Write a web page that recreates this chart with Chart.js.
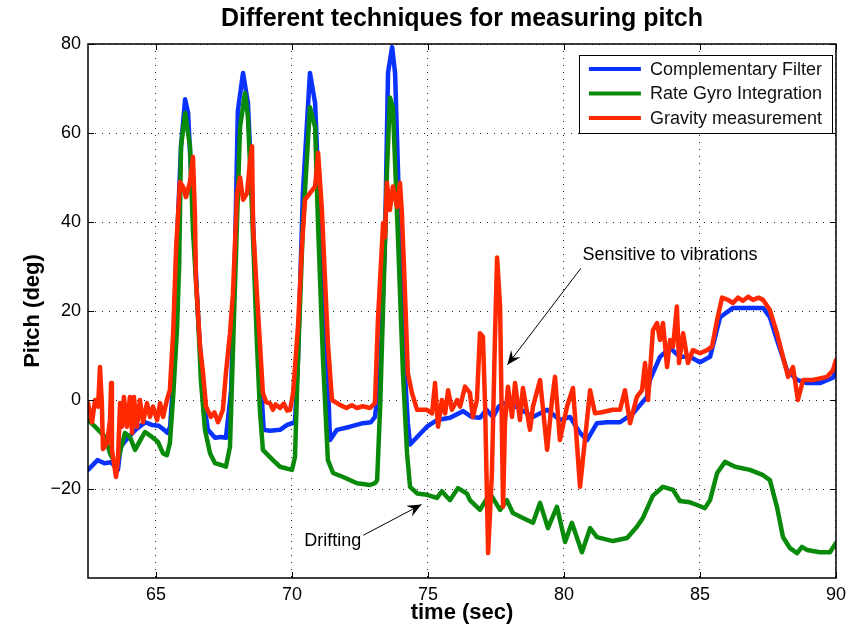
<!DOCTYPE html>
<html>
<head>
<meta charset="utf-8">
<script src="https://cdn.jsdelivr.net/npm/chart.js@4.4.0/dist/chart.umd.min.js"></script>
<style>
  html, body { margin: 0; padding: 0; background: #fff; }
  #wrap { width: 852px; height: 628px; }
</style>
</head>
<body>
<div id="wrap"><canvas id="pitchChart" width="852" height="628"></canvas></div>
<script>
// time (sec), pitch (deg)
const complementary = [
  [62.5,-15.7],[62.85,-13.5],[63.1,-14.2],[63.35,-14],[63.6,-15.7],[63.7,-10.5],[63.9,-9],[64.25,-6.7],
  [64.6,-5],[64.85,-5.6],[65.1,-5.8],[65.3,-6.7],[65.42,-7.4],[65.52,-6],[65.6,1.6],[65.74,30.8],
  [65.92,57],[66.07,67.6],[66.18,64.5],[66.36,42],[66.54,19.5],[66.73,0.7],[66.91,-6.7],[67.17,-8.5],
  [67.39,-8.3],[67.57,-8.5],[67.76,2],[67.9,31.5],[68.01,65],[68.2,73.5],[68.38,66.7],[68.53,46.5],
  [68.71,16.4],[68.88,1.6],[68.96,-6.7],[69.19,-6.9],[69.56,-6.7],[69.82,-5.6],[70.11,-5],[70.22,9],
  [70.4,46.5],[70.66,73.5],[70.85,66.7],[71.03,39],[71.29,9],[71.4,-9],[71.65,-6.7],[72.13,-6],
  [72.61,-5.2],[72.9,-5],[73.05,-3.8],[73.24,6],[73.42,36],[73.53,73.5],[73.68,79.3],[73.79,73.5],
  [73.9,51],[74.08,13.5],[74.26,-5.2],[74.34,-10],[74.6,-8.3],[74.96,-6],[75.33,-4.5],[75.81,-4],
  [76.29,-2.5],[76.6,-3.8],[76.91,-4],[77.15,-2.2],[77.39,-3.8],[77.6,-1.5],[77.76,-0.7],[78.27,-1.6],
  [78.86,-3.8],[79.38,-2.2],[79.85,-4.5],[80.22,-3.8],[80.59,-7.4],[80.85,-9],[81.21,-5.2],[81.58,-5],
  [82.06,-5],[82.54,-3],[83.05,0.7],[83.16,4.5],[83.53,9.7],[83.9,11.7],[84.26,9.7],[84.63,9.7],
  [85.0,8.5],[85.37,9.7],[85.74,18.6],[86.21,20.7],[86.84,20.7],[87.32,20.7],[87.57,18.6],[87.83,13.5],
  [88.2,6.7],[88.57,4.5],[88.93,3.8],[89.41,3.8],[89.89,5],[90,6.7]
];

const rateGyro = [
  [62.5,-4.5],[62.76,-6],[63.13,-8.3],[63.31,-12],[63.49,-14.2],[63.6,-13.5],[63.86,-7.4],[64.04,-8.3],
  [64.23,-11.2],[64.49,-8.3],[64.6,-7.2],[64.85,-8.3],[65.07,-9.4],[65.26,-12],[65.4,-12.4],[65.51,-9.7],
  [65.63,0.7],[65.77,15.7],[65.85,30],[65.92,57],[66.07,64.5],[66.25,57],[66.36,38],[66.54,19.5],
  [66.65,4.5],[66.8,-6.7],[66.99,-12],[67.17,-14.2],[67.39,-14.6],[67.57,-15],[67.72,-10.5],[67.9,25],
  [68.09,61.3],[68.27,69],[68.38,63.6],[68.53,42.7],[68.71,12.8],[68.82,-2.2],[68.93,-11.2],[69.3,-13.5],
  [69.56,-15],[70.0,-15.7],[70.11,-12.8],[70.22,9],[70.4,39],[70.66,65.8],[70.85,61.3],[70.96,39],
  [71.14,9],[71.32,-13.5],[71.51,-16.4],[71.88,-17.3],[72.39,-18.7],[72.87,-19.1],[73.05,-18.7],[73.13,-18],
  [73.24,-1.6],[73.35,21],[73.49,51],[73.6,68],[73.71,65.8],[73.9,36],[74.08,6],[74.23,-12],
  [74.34,-19.5],[74.6,-21],[74.96,-21.3],[75.33,-22],[75.51,-20.5],[75.7,-21.8],[75.81,-22.5],[76.1,-19.8],
  [76.43,-21],[76.54,-22.5],[76.91,-24.7],[77.28,-21],[77.65,-24.7],[77.9,-22.5],[78.12,-25.4],[78.49,-26.5],
  [78.86,-27.6],[79.12,-23.1],[79.41,-28.8],[79.74,-24],[80.04,-31.9],[80.29,-27.6],[80.66,-34.2],[80.96,-28.8],
  [81.21,-30.8],[81.8,-31.7],[82.32,-31],[82.68,-28.5],[82.9,-26.5],[83.27,-21.5],[83.64,-19.5],[84.01,-20.2],
  [84.26,-22.7],[84.63,-23],[84.89,-23.6],[85.18,-24.3],[85.37,-22.5],[85.63,-16.4],[85.92,-13.9],[86.29,-15],
  [86.84,-15.7],[87.32,-16.9],[87.57,-18],[87.83,-24],[88.05,-30.8],[88.31,-33.3],[88.57,-34.4],[88.75,-33],
  [88.93,-33.7],[89.41,-34.2],[89.78,-34.2],[90,-32.1]
];

const gravity = [
  [62.5,-0.7],[62.65,-5],[62.76,0],[62.87,-1.5],[62.94,7.4],[63.01,-0.7],[63.05,-11],[63.2,-9.7],
  [63.31,-4.5],[63.35,3.8],[63.38,-11.2],[63.53,-17.3],[63.6,-13.5],[63.68,-0.7],[63.75,-6],[63.82,0.7],
  [63.93,-6],[64.04,0.7],[64.12,-7.4],[64.19,0.7],[64.3,-6],[64.41,0],[64.52,-5],[64.67,-0.7],
  [64.78,-3.8],[64.89,-1.5],[65.04,-4.5],[65.15,-0.7],[65.26,-3.8],[65.4,0],[65.51,2.2],[65.63,15],
  [65.74,34],[65.88,49],[65.99,48],[66.1,45.6],[66.25,49],[66.36,54.6],[66.43,42],[66.47,27],
  [66.62,12],[66.73,6],[66.84,-1.5],[67.02,-3.8],[67.15,-2.8],[67.28,-5],[67.38,-3.5],[67.46,-2.2],
  [67.57,6],[67.72,15],[67.83,24],[67.98,46.5],[68.09,50],[68.2,45],[68.35,46.5],[68.46,54],
  [68.53,57],[68.57,39],[68.71,24],[68.82,12.8],[68.93,1.6],[69.05,-0.5],[69.19,-0.7],[69.3,-2.2],
  [69.4,-1],[69.56,-1.8],[69.7,-0.8],[69.82,-2.4],[69.93,-2.2],[70.04,1.6],[70.22,16.4],[70.37,35],
  [70.48,45],[70.66,46.5],[70.85,48],[70.96,55.5],[71.1,42.7],[71.21,27.6],[71.32,12.8],[71.47,0],
  [71.76,-1.1],[72.0,-1.8],[72.2,-1.2],[72.39,-1.8],[72.6,-1.4],[72.87,-1.8],[73.05,-0.7],[73.16,18],
  [73.35,39.8],[73.42,36.6],[73.49,48.8],[73.6,42.7],[73.71,48],[73.86,43.4],[73.97,48.8],[74.04,42],
  [74.15,24.7],[74.26,6],[74.41,1.6],[74.6,-2.2],[74.96,-2.2],[75.15,-3],[75.26,3.8],[75.37,-6],
  [75.51,0],[75.63,-3],[75.74,2.2],[75.88,-2.2],[76.07,0],[76.18,-1.5],[76.36,3],[76.54,1.6],
  [76.65,-3.8],[76.8,0],[76.91,15],[77.02,14.2],[77.1,-1.5],[77.21,-34.4],[77.35,-16.4],[77.46,13.5],
  [77.54,32],[77.65,21],[77.76,-24],[77.83,-5.2],[77.94,3],[78.09,-3.8],[78.2,3.8],[78.38,-4.5],
  [78.49,2.7],[78.75,-6.7],[78.86,-1.5],[79.12,4.5],[79.38,-11.2],[79.56,0],[79.67,5.2],[79.85,-9],
  [80.11,-1.5],[80.33,2.7],[80.59,-19.5],[80.77,-9],[80.96,2.2],[81.14,-3],[81.43,-2.7],[81.8,-2.2],
  [82.06,-2.2],[82.24,2.2],[82.43,-5.2],[82.68,0.7],[82.87,2.2],[82.98,8.3],[83.09,0],[83.27,15.7],
  [83.42,17.3],[83.53,13.5],[83.64,17.3],[83.79,7.4],[83.9,13.5],[84.01,12],[84.15,21],[84.23,8.3],
  [84.38,15],[84.56,8.3],[84.74,11.2],[85.0,10.5],[85.26,11.2],[85.44,12],[85.63,18],[85.81,23],
  [86.03,22.5],[86.21,21.8],[86.4,23],[86.58,22.3],[86.77,23.2],[86.95,22.5],[87.15,23],[87.32,22.5],
  [87.57,20.2],[87.83,15],[88.05,9.7],[88.24,5.2],[88.42,7.4],[88.6,0],[88.79,4.5],[89.15,4.5],
  [89.67,5.2],[89.89,6.7],[90,9]
];

const seriesNames = ["Complementary Filter", "Rate Gyro Integration", "Gravity measurement"];
const seriesColors = ["#0a32ff", "#0a8a0a", "#ff2800"];
const xTicks = [65, 70, 75, 80, 85, 90];
const yTicks = [-20, 0, 20, 40, 60, 80];

const notes = [
  { text: "Sensitive to vibrations", at: [80.68, 32.6], align: "left", from: [80.62, 29.6], to: [77.92, 7.9] },
  { text: "Drifting", at: [72.55, -31.8], align: "right", from: [72.62, -30.4], to: [74.76, -23.5] },
];

const FONT = '"Liberation Sans", Arial, Helvetica, sans-serif';

function drawArrowHead(ctx, x1, y1, x2, y2) {
  const ang = Math.atan2(y2 - y1, x2 - x1);
  const len = 14, half = 6, notch = 9;
  ctx.save();
  ctx.translate(x2, y2);
  ctx.rotate(ang);
  ctx.beginPath();
  ctx.moveTo(0, 0);
  ctx.lineTo(-len, -half);
  ctx.lineTo(-notch, 0);
  ctx.lineTo(-len, half);
  ctx.closePath();
  ctx.fillStyle = "#000";
  ctx.fill();
  ctx.restore();
}

const decorations = {
  id: "decorations",
  afterDraw(chart) {
    const { ctx, chartArea: a, scales: { x, y } } = chart;
    ctx.save();

    // inner ticks + frame
    ctx.strokeStyle = "#000";
    ctx.lineWidth = 1;
    const tl = 6;
    ctx.beginPath();
    xTicks.forEach((v) => {
      const px = Math.round(x.getPixelForValue(v)) + 0.5;
      ctx.moveTo(px, a.bottom); ctx.lineTo(px, a.bottom - tl);
      ctx.moveTo(px, a.top); ctx.lineTo(px, a.top + tl);
    });
    yTicks.forEach((v) => {
      const py = Math.round(y.getPixelForValue(v)) + 0.5;
      ctx.moveTo(a.left, py); ctx.lineTo(a.left + tl, py);
      ctx.moveTo(a.right, py); ctx.lineTo(a.right - tl, py);
    });
    ctx.stroke();
    ctx.lineWidth = 1.5;
    ctx.strokeRect(a.left, a.top, a.right - a.left, a.bottom - a.top);

    // title
    ctx.fillStyle = "#000";
    ctx.font = "bold 25px " + FONT;
    ctx.textAlign = "center";
    ctx.textBaseline = "middle";
    ctx.fillText("Different techniques for measuring pitch", (a.left + a.right) / 2, 19);

    // annotations
    ctx.font = "18px " + FONT;
    notes.forEach((n) => {
      ctx.textAlign = n.align;
      ctx.fillText(n.text, x.getPixelForValue(n.at[0]), y.getPixelForValue(n.at[1]));
      const x1 = x.getPixelForValue(n.from[0]), y1 = y.getPixelForValue(n.from[1]);
      const x2 = x.getPixelForValue(n.to[0]), y2 = y.getPixelForValue(n.to[1]);
      ctx.lineWidth = 1;
      ctx.beginPath();
      ctx.moveTo(x1, y1);
      ctx.lineTo(x2, y2);
      ctx.stroke();
      drawArrowHead(ctx, x1, y1, x2, y2);
    });

    // legend box
    ctx.font = "18px " + FONT;
    const textW = Math.max(...seriesNames.map((s) => ctx.measureText(s).width));
    const boxW = 71 + textW + 10, boxH = 78;
    const bx = a.right - 4 - boxW, by = a.top + 11;
    ctx.fillStyle = "#fff";
    ctx.fillRect(bx, by, boxW, boxH);
    ctx.lineWidth = 1;
    ctx.strokeStyle = "#000";
    ctx.strokeRect(Math.round(bx) + 0.5, Math.round(by) + 0.5, Math.round(boxW), boxH);
    ctx.textAlign = "left";
    seriesNames.forEach((name, i) => {
      const ly = by + 14 + i * 24.5;
      ctx.strokeStyle = seriesColors[i];
      ctx.lineWidth = 4;
      ctx.beginPath();
      ctx.moveTo(bx + 10, ly);
      ctx.lineTo(bx + 62, ly);
      ctx.stroke();
      ctx.fillStyle = "#111";
      ctx.fillText(name, bx + 71, ly + 1);
    });
    ctx.restore();
  },
};

const toPoints = (arr) => arr.map(([t, v]) => ({ x: t, y: v }));
const minusSign = (v) => String(v).replace("-", "\u2212");

new Chart(document.getElementById("pitchChart"), {
  type: "line",
  data: {
    datasets: [complementary, rateGyro, gravity].map((s, i) => ({
      label: seriesNames[i],
      data: toPoints(s),
      borderColor: seriesColors[i],
      borderWidth: 4.5,
      pointRadius: 0,
      tension: 0,
      borderJoinStyle: "round",
      borderCapStyle: "round",
      order: 2 - i,
    })),
  },
  options: {
    responsive: false,
    animation: false,
    layout: { padding: { top: 44, right: 16, left: 0, bottom: 0 } },
    plugins: { legend: { display: false }, tooltip: { enabled: false } },
    scales: {
      x: {
        type: "linear",
        min: 62.5,
        max: 90,
        afterBuildTicks: (ax) => { ax.ticks = xTicks.map((v) => ({ value: v })); },
        afterFit: (ax) => { ax.height = 50; },
        grid: { color: "#222", lineWidth: 1, drawTicks: false },
        border: { display: false, dash: [1, 6] },
        ticks: { color: "#000", padding: 6, font: { family: FONT, size: 18 }, maxRotation: 0 },
        title: {
          display: true, text: "time (sec)", color: "#000",
          font: { family: FONT, size: 22, weight: "bold", lineHeight: 1.2 },
          padding: { top: 0, bottom: 2 },
        },
      },
      y: {
        min: -40,
        max: 80,
        afterBuildTicks: (ax) => { ax.ticks = yTicks.map((v) => ({ value: v })); },
        afterFit: (ax) => { ax.width = 88; },
        grid: { color: "#222", lineWidth: 1, drawTicks: false },
        border: { display: false, dash: [1, 6] },
        ticks: { color: "#000", padding: 7, font: { family: FONT, size: 18 }, callback: (v) => minusSign(v) },
        title: {
          display: true, text: "Pitch (deg)", color: "#000",
          font: { family: FONT, size: 22, weight: "bold", lineHeight: 1.2 },
          padding: { top: 20, bottom: 0 },
        },
      },
    },
  },
  plugins: [decorations],
});
</script>
</body>
</html>
